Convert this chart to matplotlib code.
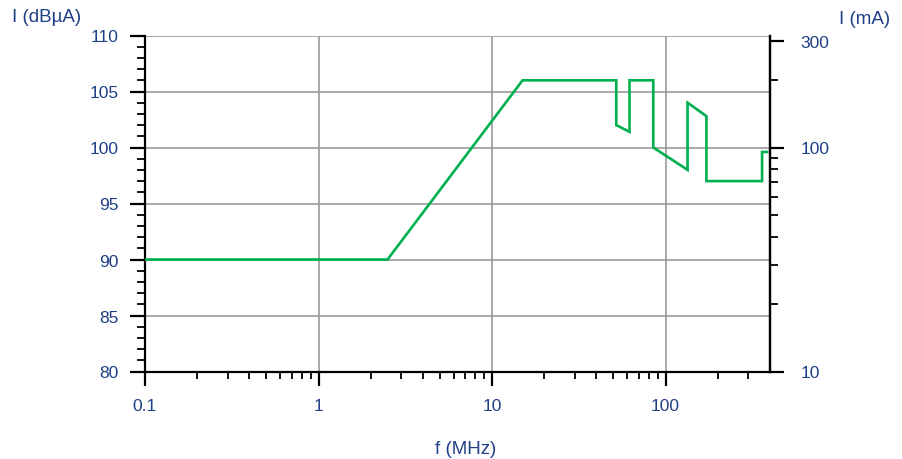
import numpy as np
import matplotlib
matplotlib.use("Agg")
import matplotlib.pyplot as plt
from matplotlib.ticker import FixedLocator, NullFormatter

plt.rcParams["font.family"] = ["Liberation Sans", "DejaVu Sans"]

# limit curve (frequency in MHz, level in dBuA)
freq_mhz = [0.1, 2.5, 15, 52, 52, 62, 62, 85, 85, 134, 134, 172, 172, 360, 360, 385]
level_dbua = [90, 90, 106, 106, 102, 101.4, 106, 106, 100, 98, 104, 102.8, 97, 97, 99.6, 99.6]

x_major = [0.1, 1, 10, 100]
x_major_labels = ["0.1", "1", "10", "100"]
y_major = [80, 85, 90, 95, 100, 105, 110]
ma_major = [10, 100, 300]
ma_labels = ["10", "100", "300"]

TXT = "#1f3f86"
GREEN = "#00b04f"

fig = plt.figure(figsize=(9.03, 4.6), dpi=100)
ax = fig.add_axes([145 / 903, 1 - 372.5 / 460, 625 / 903, 336 / 460])

ax.plot(freq_mhz, level_dbua, color=GREEN, lw=1.9, zorder=3, solid_joinstyle="miter")
ax.set_xscale("log")
ax.set_xlim(0.1, 400)
ax.set_ylim(80, 110)

ax.xaxis.set_major_locator(FixedLocator(x_major))
ax.set_xticklabels(x_major_labels)
x_minor = [m * d for d in (0.1, 1, 10) for m in range(2, 10)] + [200, 300]
ax.xaxis.set_minor_locator(FixedLocator(x_minor))
ax.xaxis.set_minor_formatter(NullFormatter())

ax.set_yticks(y_major)
ax.yaxis.set_minor_locator(FixedLocator(np.arange(80, 110.5, 1)))

ax.grid(True, which="major", color="#999999", lw=1.2)
ax.set_axisbelow(True)
ax.spines["top"].set_visible(False)
for s in ("left", "bottom", "right"):
    ax.spines[s].set_linewidth(1.6)
    ax.spines[s].set_color("black")

ax.tick_params(axis="x", which="major", direction="out", length=10, width=1.6,
               pad=9, labelsize=12.5, labelcolor=TXT)
ax.tick_params(axis="x", which="minor", direction="out", length=5, width=1.3)
ax.tick_params(axis="y", which="major", direction="out", length=11, width=1.6,
               pad=8, labelsize=12.5, labelcolor=TXT)
ax.tick_params(axis="y", which="minor", direction="out", length=6, width=1.3)

# right axis in mA, log scale matched to dBuA
ax2 = ax.twinx()
ax2.set_yscale("log")
ax2.set_ylim(10 ** (80 / 20) / 1000, 10 ** (110 / 20) / 1000)
ax2.yaxis.set_major_locator(FixedLocator(ma_major))
ax2.set_yticklabels(ma_labels)
ax2.yaxis.set_minor_locator(FixedLocator([20, 30, 40, 50, 60, 70, 80, 90, 200]))
ax2.yaxis.set_minor_formatter(NullFormatter())
ax2.spines["top"].set_visible(False)
ax2.spines["left"].set_visible(False)
ax2.spines["bottom"].set_visible(False)
ax2.spines["right"].set_linewidth(1.6)
ax2.tick_params(axis="y", which="major", direction="out", length=10, width=1.6,
                pad=12, labelsize=12.5, labelcolor=TXT)
ax2.tick_params(axis="y", which="minor", direction="out", length=6, width=1.3)

fig.text(12 / 903, 1 - 18 / 460, "I (dBµA)", color=TXT, fontsize=13.5,
         ha="left", va="center")
fig.text(890 / 903, 1 - 20 / 460, "I (mA)", color=TXT, fontsize=13.5,
         ha="right", va="center")
fig.text(466 / 903, 1 - 450 / 460, "f (MHz)", color=TXT, fontsize=13.5,
         ha="center", va="center")

fig.savefig("out.png", dpi=100)
